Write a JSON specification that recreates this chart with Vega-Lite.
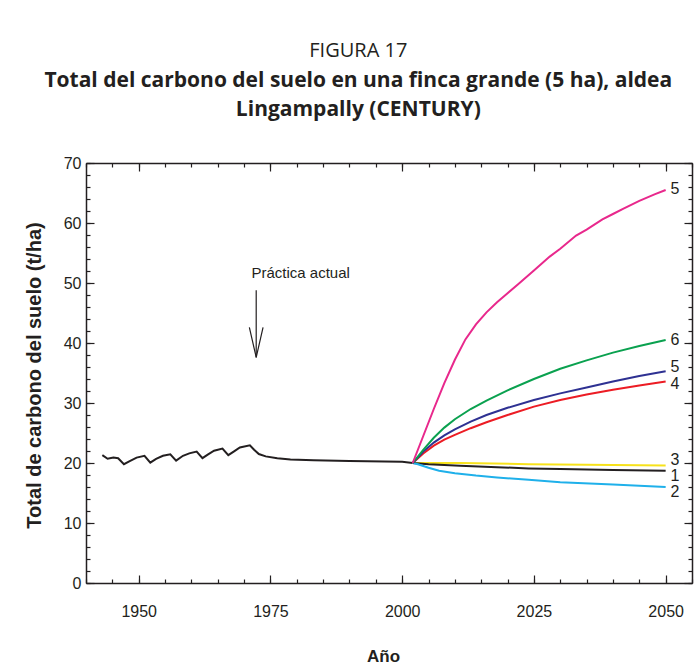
{
  "$schema": "https://vega.github.io/schema/vega-lite/v6.json",
  "width": 606,
  "height": 420,
  "autosize": "none",
  "padding": {"left": 86, "top": 163, "right": 2, "bottom": 86},
  "background": "white",
  "config": {
    "view": {"stroke": null},
    "axis": {"grid": false, "domainColor": "#231f20", "tickColor": "#231f20", "domainWidth": 1.5, "tickWidth": 1.2, "labelFont": "Liberation Sans", "labelFontSize": 16, "labelColor": "#231f20"}
  },
  "title": {
    "text": "FIGURA 17",
    "subtitle": ["Total del carbono del suelo en una finca grande (5 ha), aldea", "Lingampally (CENTURY)"],
    "font": "Open Sans",
    "fontSize": 20,
    "fontWeight": "normal",
    "color": "#231f20",
    "subtitleFont": "Open Sans",
    "subtitleFontSize": 21,
    "subtitleFontWeight": "bold",
    "subtitleColor": "#231f20",
    "subtitleLineHeight": 29,
    "subtitlePadding": 9,
    "anchor": "middle",
    "frame": "bounds",
    "offset": 35
  },
  "datasets": {
    "series": [
      {"series": "hist", "year": 1943.1, "value": 21.3},
      {"series": "hist", "year": 1944.1, "value": 20.7},
      {"series": "hist", "year": 1945.2, "value": 20.9},
      {"series": "hist", "year": 1946.1, "value": 20.8},
      {"series": "hist", "year": 1947.2, "value": 19.8},
      {"series": "hist", "year": 1948.3, "value": 20.3},
      {"series": "hist", "year": 1949.6, "value": 20.9},
      {"series": "hist", "year": 1951.1, "value": 21.2},
      {"series": "hist", "year": 1952.2, "value": 20.05},
      {"series": "hist", "year": 1953.3, "value": 20.7},
      {"series": "hist", "year": 1954.6, "value": 21.2},
      {"series": "hist", "year": 1956.0, "value": 21.45},
      {"series": "hist", "year": 1957.1, "value": 20.4},
      {"series": "hist", "year": 1958.4, "value": 21.2},
      {"series": "hist", "year": 1959.6, "value": 21.6},
      {"series": "hist", "year": 1961.0, "value": 21.9},
      {"series": "hist", "year": 1962.1, "value": 20.8},
      {"series": "hist", "year": 1963.1, "value": 21.4},
      {"series": "hist", "year": 1964.3, "value": 22.05},
      {"series": "hist", "year": 1965.9, "value": 22.4},
      {"series": "hist", "year": 1967.0, "value": 21.3},
      {"series": "hist", "year": 1968.1, "value": 21.95},
      {"series": "hist", "year": 1969.2, "value": 22.6},
      {"series": "hist", "year": 1971.1, "value": 22.95},
      {"series": "hist", "year": 1971.9, "value": 22.2},
      {"series": "hist", "year": 1972.8, "value": 21.5},
      {"series": "hist", "year": 1974.1, "value": 21.1},
      {"series": "hist", "year": 1976.3, "value": 20.8},
      {"series": "hist", "year": 1978.8, "value": 20.6},
      {"series": "hist", "year": 1983.2, "value": 20.45},
      {"series": "hist", "year": 1990.0, "value": 20.33},
      {"series": "hist", "year": 2000.0, "value": 20.2},
      {"series": "hist", "year": 2002.0, "value": 20.0},
      {"series": "3", "year": 2002, "value": 20.0},
      {"series": "3", "year": 2011, "value": 20.0},
      {"series": "3", "year": 2024, "value": 19.8},
      {"series": "3", "year": 2035, "value": 19.7},
      {"series": "3", "year": 2050, "value": 19.6},
      {"series": "1", "year": 2002, "value": 20.0},
      {"series": "1", "year": 2005, "value": 19.8},
      {"series": "1", "year": 2011, "value": 19.55},
      {"series": "1", "year": 2018, "value": 19.3},
      {"series": "1", "year": 2024, "value": 19.1},
      {"series": "1", "year": 2030, "value": 19.0},
      {"series": "1", "year": 2040, "value": 18.85},
      {"series": "1", "year": 2050, "value": 18.7},
      {"series": "2", "year": 2002, "value": 20.0},
      {"series": "2", "year": 2003, "value": 19.8},
      {"series": "2", "year": 2005, "value": 19.2},
      {"series": "2", "year": 2007, "value": 18.7},
      {"series": "2", "year": 2010, "value": 18.3},
      {"series": "2", "year": 2014, "value": 17.9},
      {"series": "2", "year": 2018, "value": 17.6},
      {"series": "2", "year": 2024, "value": 17.2},
      {"series": "2", "year": 2030, "value": 16.8},
      {"series": "2", "year": 2040, "value": 16.4},
      {"series": "2", "year": 2050, "value": 16.0},
      {"series": "4", "year": 2002, "value": 20.0},
      {"series": "4", "year": 2004, "value": 21.6},
      {"series": "4", "year": 2006, "value": 22.9},
      {"series": "4", "year": 2008, "value": 23.9},
      {"series": "4", "year": 2010, "value": 24.7},
      {"series": "4", "year": 2013, "value": 25.8},
      {"series": "4", "year": 2016, "value": 26.8},
      {"series": "4", "year": 2020, "value": 28.0},
      {"series": "4", "year": 2025, "value": 29.4},
      {"series": "4", "year": 2030, "value": 30.5},
      {"series": "4", "year": 2035, "value": 31.4},
      {"series": "4", "year": 2040, "value": 32.2},
      {"series": "4", "year": 2045, "value": 32.9},
      {"series": "4", "year": 2050, "value": 33.6},
      {"series": "5a", "year": 2002, "value": 20.0},
      {"series": "5a", "year": 2004, "value": 21.9},
      {"series": "5a", "year": 2006, "value": 23.4},
      {"series": "5a", "year": 2008, "value": 24.6},
      {"series": "5a", "year": 2010, "value": 25.6},
      {"series": "5a", "year": 2013, "value": 26.9},
      {"series": "5a", "year": 2016, "value": 28.0},
      {"series": "5a", "year": 2020, "value": 29.2},
      {"series": "5a", "year": 2025, "value": 30.5},
      {"series": "5a", "year": 2030, "value": 31.6},
      {"series": "5a", "year": 2035, "value": 32.6},
      {"series": "5a", "year": 2040, "value": 33.6},
      {"series": "5a", "year": 2045, "value": 34.5},
      {"series": "5a", "year": 2050, "value": 35.3},
      {"series": "6", "year": 2002, "value": 20.0},
      {"series": "6", "year": 2004, "value": 22.2},
      {"series": "6", "year": 2006, "value": 24.2},
      {"series": "6", "year": 2008, "value": 25.9},
      {"series": "6", "year": 2010, "value": 27.3},
      {"series": "6", "year": 2013, "value": 29.0},
      {"series": "6", "year": 2016, "value": 30.4},
      {"series": "6", "year": 2020, "value": 32.1},
      {"series": "6", "year": 2025, "value": 34.0},
      {"series": "6", "year": 2030, "value": 35.7},
      {"series": "6", "year": 2035, "value": 37.1},
      {"series": "6", "year": 2040, "value": 38.4},
      {"series": "6", "year": 2045, "value": 39.5},
      {"series": "6", "year": 2050, "value": 40.5},
      {"series": "5b", "year": 2002, "value": 20.0},
      {"series": "5b", "year": 2004, "value": 24.5},
      {"series": "5b", "year": 2006, "value": 29.0},
      {"series": "5b", "year": 2008, "value": 33.3},
      {"series": "5b", "year": 2010, "value": 37.2},
      {"series": "5b", "year": 2012, "value": 40.6},
      {"series": "5b", "year": 2014, "value": 43.1},
      {"series": "5b", "year": 2016, "value": 45.1},
      {"series": "5b", "year": 2018, "value": 46.8},
      {"series": "5b", "year": 2020, "value": 48.3},
      {"series": "5b", "year": 2022, "value": 49.8},
      {"series": "5b", "year": 2025, "value": 52.1},
      {"series": "5b", "year": 2028, "value": 54.4},
      {"series": "5b", "year": 2030, "value": 55.7},
      {"series": "5b", "year": 2033, "value": 57.9},
      {"series": "5b", "year": 2035, "value": 58.9},
      {"series": "5b", "year": 2038, "value": 60.6},
      {"series": "5b", "year": 2040, "value": 61.5},
      {"series": "5b", "year": 2042, "value": 62.4},
      {"series": "5b", "year": 2045, "value": 63.7},
      {"series": "5b", "year": 2048, "value": 64.8},
      {"series": "5b", "year": 2050, "value": 65.5}
    ],
    "endlabels": [
      {"label": "5", "year": 2050.9, "value": 65.6},
      {"label": "6", "year": 2050.9, "value": 40.5},
      {"label": "5", "year": 2050.9, "value": 36.05},
      {"label": "4", "year": 2050.9, "value": 33.2},
      {"label": "3", "year": 2050.9, "value": 20.5},
      {"label": "1", "year": 2050.9, "value": 17.85},
      {"label": "2", "year": 2050.9, "value": 15.2}
    ],
    "shaft": [
      {"year": 1972.3, "top": 48.8, "tip": 37.6}
    ],
    "head": [
      {"year": 1971.0, "value": 42.6, "k": 0},
      {"year": 1972.3, "value": 37.6, "k": 1},
      {"year": 1973.6, "value": 42.6, "k": 2}
    ],
    "note": [
      {"year": 1971.4, "value": 51.6, "text": "Práctica actual"}
    ]
  },
  "layer": [
    {
      "data": {"name": "series"},
      "mark": {"type": "line", "strokeWidth": 2},
      "encoding": {
        "x": {
          "field": "year", "type": "quantitative",
          "scale": {"domain": [1940, 2055], "nice": false, "zero": false},
          "axis": {
            "orient": "bottom",
            "values": [1940, 1945, 1950, 1955, 1960, 1965, 1970, 1975, 1980, 1985, 1990, 1995, 2000, 2005, 2010, 2015, 2020, 2025, 2030, 2035, 2040, 2045, 2050, 2055],
            "format": "d",
            "labelExpr": "datum.value % 25 === 0 ? datum.label : ''",
            "labelOverlap": false,
            "labelFlush": false,
            "tickSize": -4,
            "labelPadding": 24,
            "title": "Año",
            "titleFont": "Liberation Sans",
            "titleFontSize": 17,
            "titleFontWeight": "bold",
            "titleColor": "#231f20",
            "titleX": 297,
            "titleY": 73,
            "titleBaseline": "middle"
          }
        },
        "y": {
          "field": "value", "type": "quantitative",
          "scale": {"domain": [0, 70], "nice": false, "zero": true},
          "axis": {
            "orient": "left",
            "values": [0, 2, 4, 6, 8, 10, 12, 14, 16, 18, 20, 22, 24, 26, 28, 30, 32, 34, 36, 38, 40, 42, 44, 46, 48, 50, 52, 54, 56, 58, 60, 62, 64, 66, 68, 70],
            "labelExpr": "datum.value % 10 === 0 ? datum.label : ''",
            "labelOverlap": false,
            "labelFlush": false,
            "tickSize": -4,
            "labelPadding": 9,
            "title": "Total de carbono del suelo (t/ha)",
            "titleFont": "Liberation Sans",
            "titleFontSize": 20,
            "titleFontWeight": "bold",
            "titleColor": "#231f20",
            "titleAngle": -90,
            "titleX": -52,
            "titleY": 212,
            "titleAlign": "center",
            "titleBaseline": "middle"
          }
        },
        "color": {
          "field": "series", "type": "nominal",
          "scale": {
            "domain": ["hist", "3", "1", "2", "4", "5a", "6", "5b"],
            "range": ["#231f20", "#f7e21b", "#231f20", "#1fb0ea", "#ec1c24", "#2e3192", "#0aa14f", "#e8288c"]
          },
          "legend": null
        }
      }
    },
    {
      "data": {"name": "series"},
      "mark": {"type": "point", "opacity": 0},
      "encoding": {
        "x": {
          "field": "year", "type": "quantitative",
          "axis": {"orient": "bottom", "values": [1950, 1975, 2000, 2025, 2050], "tickSize": -8, "labels": false, "domain": false, "title": null}
        },
        "y": {
          "field": "value", "type": "quantitative",
          "axis": {"orient": "left", "values": [0, 10, 20, 30, 40, 50, 60, 70], "tickSize": -8, "labels": false, "domain": false, "title": null}
        }
      }
    },
    {
      "data": {"name": "series"},
      "mark": {"type": "point", "opacity": 0},
      "encoding": {
        "x": {
          "field": "year", "type": "quantitative",
          "axis": {"orient": "top", "values": [1940, 1945, 1950, 1955, 1960, 1965, 1970, 1975, 1980, 1985, 1990, 1995, 2000, 2005, 2010, 2015, 2020, 2025, 2030, 2035, 2040, 2045, 2050, 2055], "tickSize": -4, "labels": false, "title": null}
        },
        "y": {
          "field": "value", "type": "quantitative",
          "axis": {"orient": "right", "values": [0, 2, 4, 6, 8, 10, 12, 14, 16, 18, 20, 22, 24, 26, 28, 30, 32, 34, 36, 38, 40, 42, 44, 46, 48, 50, 52, 54, 56, 58, 60, 62, 64, 66, 68, 70], "tickSize": -4, "labels": false, "title": null}
        }
      }
    },
    {
      "data": {"name": "series"},
      "mark": {"type": "point", "opacity": 0},
      "encoding": {
        "x": {
          "field": "year", "type": "quantitative",
          "axis": {"orient": "top", "values": [1950, 1975, 2000, 2025, 2050], "tickSize": -8, "labels": false, "domain": false, "title": null}
        },
        "y": {
          "field": "value", "type": "quantitative",
          "axis": {"orient": "right", "values": [0, 10, 20, 30, 40, 50, 60, 70], "tickSize": -8, "labels": false, "domain": false, "title": null}
        }
      }
    },
    {
      "data": {"name": "endlabels"},
      "mark": {"type": "text", "align": "left", "baseline": "middle", "font": "Liberation Sans", "fontSize": 16, "color": "#231f20"},
      "encoding": {
        "x": {"field": "year", "type": "quantitative", "axis": null},
        "y": {"field": "value", "type": "quantitative", "axis": null},
        "text": {"field": "label"}
      }
    },
    {
      "data": {"name": "shaft"},
      "mark": {"type": "rule", "strokeWidth": 1.2, "color": "#231f20"},
      "encoding": {
        "x": {"field": "year", "type": "quantitative", "axis": null},
        "y": {"field": "top", "type": "quantitative", "axis": null},
        "y2": {"field": "tip"}
      }
    },
    {
      "data": {"name": "head"},
      "mark": {"type": "line", "strokeWidth": 1.2, "color": "#231f20"},
      "encoding": {
        "x": {"field": "year", "type": "quantitative", "axis": null},
        "y": {"field": "value", "type": "quantitative", "axis": null},
        "order": {"field": "k"}
      }
    },
    {
      "data": {"name": "note"},
      "mark": {"type": "text", "align": "left", "baseline": "middle", "font": "Liberation Sans", "fontSize": 15, "color": "#231f20"},
      "encoding": {
        "x": {"field": "year", "type": "quantitative", "axis": null},
        "y": {"field": "value", "type": "quantitative", "axis": null},
        "text": {"field": "text"}
      }
    }
  ],
  "resolve": {"axis": {"x": "independent", "y": "independent"}}
}
